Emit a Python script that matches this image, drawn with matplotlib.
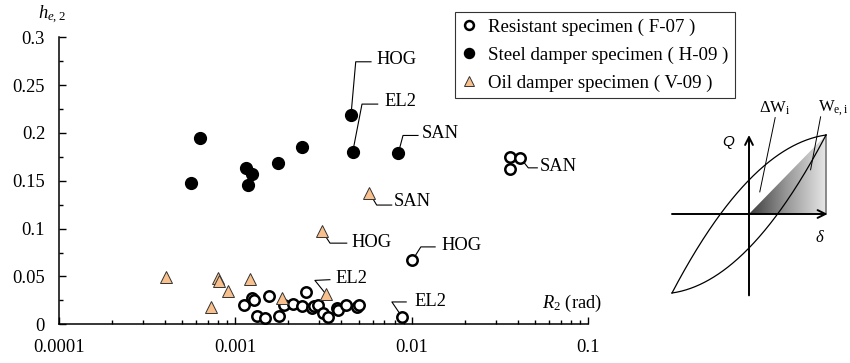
import numpy as np
import matplotlib
matplotlib.use("Agg")
import matplotlib.pyplot as plt
from matplotlib.patches import Polygon
from matplotlib.colors import LinearSegmentedColormap
from matplotlib.ticker import FixedLocator, LogLocator, NullFormatter

plt.rcParams['font.family'] = ['Liberation Serif', 'DejaVu Serif']
plt.rcParams['mathtext.fontset'] = 'custom'
plt.rcParams['mathtext.rm'] = 'Liberation Serif'
plt.rcParams['mathtext.it'] = 'Liberation Serif:italic'

# ---- data: drift angle R2 (rad) and equivalent damping ratio h_e,2 ----
resistant_R = [1.125e-3, 1.25e-3, 1.27e-3, 1.32e-3, 1.48e-3, 1.56e-3, 1.76e-3,
               1.90e-3, 2.13e-3, 2.40e-3, 2.52e-3, 2.73e-3, 2.80e-3, 2.96e-3,
               3.16e-3, 3.37e-3, 3.76e-3, 3.84e-3, 4.23e-3, 4.92e-3, 5.0e-3,
               0.0101, 0.0088, 0.0362, 0.0413, 0.0362]
resistant_h = [0.020, 0.028, 0.025, 0.009, 0.007, 0.030, 0.009,
               0.020, 0.021, 0.019, 0.034, 0.017, 0.019, 0.020,
               0.0115, 0.0073, 0.017, 0.015, 0.020, 0.018, 0.0205,
               0.067, 0.008, 0.175, 0.174, 0.162]

steel_R = [5.6e-4, 6.3e-4, 1.145e-3, 1.24e-3, 1.18e-3, 1.74e-3, 2.38e-3,
           4.53e-3, 4.63e-3, 8.4e-3]
steel_h = [0.148, 0.195, 0.163, 0.157, 0.146, 0.169, 0.185,
           0.219, 0.180, 0.179]

oil_R = [4.03e-4, 7.25e-4, 8.0e-4, 8.1e-4, 9.1e-4, 1.21e-3, 1.83e-3,
         3.09e-3, 3.25e-3, 5.75e-3]
oil_h = [0.049, 0.018, 0.048, 0.045, 0.035, 0.047, 0.027,
         0.098, 0.032, 0.1375]

legend_labels = ["Resistant specimen ( F-07 )",
                 "Steel damper specimen ( H-09 )",
                 "Oil damper specimen ( V-09 )"]

# ground-motion labels: (text, series, index in series)
ground_motion_labels = [
    ("HOG", "steel", 7), ("EL2", "steel", 8), ("SAN", "steel", 9),
    ("SAN", "resistant", 24), ("HOG", "resistant", 21), ("EL2", "resistant", 22),
    ("SAN", "oil", 9), ("HOG", "oil", 7), ("EL2", "oil", 8),
]

yticks = [0, 0.05, 0.1, 0.15, 0.2, 0.25, 0.3]
ytick_labels = ["0", "0.05", "0.1", "0.15", "0.2", "0.25", "0.3"]
xticks = [1e-4, 1e-3, 1e-2, 1e-1]
xtick_labels = ["0.0001", "0.001", "0.01", "0.1"]

W, H = 850, 363
fig = plt.figure(figsize=(W / 100, H / 100), dpi=100)
ax = fig.add_axes([59 / W, (H - 324.3) / H, (588 - 59) / W, (324.3 - 37.3) / H])

ax.set_xscale('log')
ax.set_xlim(1e-4, 1e-1)
ax.set_ylim(0, 0.3)
for s in ('top', 'right'):
    ax.spines[s].set_visible(False)
for s in ('left', 'bottom'):
    ax.spines[s].set_linewidth(1.1)

ax.set_yticks(yticks)
ax.set_yticklabels(ytick_labels)
ax.yaxis.set_minor_locator(FixedLocator(np.arange(0.025, 0.3, 0.05)))
ax.set_xticks(xticks)
ax.set_xticklabels(xtick_labels)
ax.xaxis.set_minor_locator(LogLocator(base=10, subs=np.arange(2, 10)))
ax.xaxis.set_minor_formatter(NullFormatter())
ax.tick_params(which='both', direction='in', width=1.0, labelsize=13.3)
ax.tick_params(which='major', length=5)
ax.tick_params(which='minor', length=3)
ax.tick_params(axis='y', pad=10)
ax.tick_params(axis='x', pad=10.5)

orange = '#F8C08C'
kw = dict(linestyle='none', clip_on=False, zorder=5)
ax.plot(resistant_R, resistant_h, marker='o', ms=7.5, mfc='white', mec='black',
        mew=1.8, label=legend_labels[0], **kw)
ax.plot(steel_R, steel_h, marker='o', ms=8.5, mfc='black', mec='black',
        label=legend_labels[1], **kw)
ax.plot(oil_R, oil_h, marker='^', ms=8.5, mfc=orange, mec='#333333',
        mew=0.7, label=legend_labels[2], **kw)

series = {"resistant": (resistant_R, resistant_h),
          "steel": (steel_R, steel_h),
          "oil": (oil_R, oil_h)}

# leader geometry in pixels (dx right, dy down) relative to the marker
leader_paths = {
    ("steel", 7): ([(0, 0), (4.7, -53), (20, -53)], (25, -55)),
    ("steel", 8): ([(0, 0), (9.3, -48), (25, -48)], (32, -51)),
    ("steel", 9): ([(0, 0), (4.7, -17.6), (19.7, -17.6)], (23, -20)),
    ("resistant", 24): ([(0, 0), (8, 10), (17, 10)], (19, 9)),
    ("resistant", 21): ([(0, 0), (8.4, -13.3), (22.7, -13.3)], (29, -14.5)),
    ("resistant", 22): ([(0, 0), (-10, -14.7), (4.3, -14.7)], (13, -15.5)),
    ("oil", 9): ([(0, 0), (7.4, 12.3), (22.4, 12.3)], (24, 9)),
    ("oil", 7): ([(0, 0), (8.3, 12.6), (25, 12.6)], (30, 12.3)),
    ("oil", 8): ([(0, 0), (-10.7, -13.3), (4.3, -14)], (9.5, -15)),
}

def offset_point(x, y, dx, dy):
    px, py = ax.transData.transform((x, y))
    return ax.transData.inverted().transform((px + dx, py - dy))

for text, name, i in ground_motion_labels:
    xs, ys = series[name]
    x0, y0 = xs[i], ys[i]
    path, (tx, ty) = leader_paths[(name, i)]
    pts = np.array([offset_point(x0, y0, dx, dy) for dx, dy in path])
    ax.plot(pts[:, 0], pts[:, 1], color='black', lw=0.8, zorder=3, clip_on=False)
    lx, ly = offset_point(x0, y0, tx, ty)
    ax.text(lx, ly, text, ha='left', va='center', fontsize=13.3)

# axis titles
fig.text(52 / W, 1 - 15 / H, r'$h_{e,2}$', ha='center', va='center', fontsize=13.3)
fig.text(572 / W, 1 - 303 / H, r'$R_{2}$ (rad)', ha='center', va='center', fontsize=13.3)

leg = fig.legend(loc='upper left', bbox_to_anchor=(455 / W, 1 - 11.7 / H),
                 fontsize=13.6, frameon=True, fancybox=False, edgecolor='black',
                 handlelength=0.8, handletextpad=0.6, labelspacing=0.56,
                 borderpad=0.36, borderaxespad=0, markerscale=0.85)
leg.get_frame().set_linewidth(0.8)

# ---- hysteresis schematic: loop, energy triangles, axes ----
ux, uy = 77.0, 79.0          # pixels per unit
ox, oy = 749.0, 214.0        # origin in figure pixels
x_left, x_right = 660.0, 850.0
y_top, y_bot = 100.0, 320.0
ins = fig.add_axes([x_left / W, (H - y_bot) / H, (x_right - x_left) / W, (y_bot - y_top) / H])
ins.set_xlim((x_left - ox) / ux, (x_right - ox) / ux)
ins.set_ylim((oy - y_bot) / uy, (oy - y_top) / uy)
ins.axis('off')

# gradient-filled triangle under the peak (elastic energy)
grad = np.linspace(0, 1, 256).reshape(1, -1)
gcmap = LinearSegmentedColormap.from_list('g', ['#3c3c3c', '#9a9a9a', '#e6e6e6'])
im = ins.imshow(grad, extent=(0, 1, 0, 1), cmap=gcmap, aspect='auto',
                origin='lower', zorder=1)
tri = Polygon([(0, 0), (1, 1), (1, 0)], closed=True, transform=ins.transData)
im.set_clip_path(tri)
ins.plot([1, 1], [0, 1], color='#777777', lw=1.2, zorder=2)

# pointed hysteresis loop
bulge = 0.43
xl = np.linspace(-1, 1, 200)
ins.plot(xl, xl + bulge * (1 - xl ** 2), color='black', lw=0.9, zorder=3)
ins.plot(xl, xl - bulge * (1 - xl ** 2), color='black', lw=0.9, zorder=3)

# coordinate arrows
ins.annotate('', xy=(1.02, 0), xytext=(-1.0, 0),
             arrowprops=dict(arrowstyle='->', lw=1.4, color='black',
                             mutation_scale=14, shrinkA=0, shrinkB=0), zorder=4)
ins.annotate('', xy=(0, 1.0), xytext=(0, -1.03),
             arrowprops=dict(arrowstyle='->', lw=1.4, color='black',
                             mutation_scale=14, shrinkA=0, shrinkB=0), zorder=4)
ins.text(-0.27, 0.91, 'Q', family='Liberation Sans', style='italic',
         fontsize=11, ha='center', va='center')
ins.text(0.92, -0.30, r'$\delta$', fontsize=12, ha='center', va='center')

# energy labels with leaders
ins.text(0.34, 1.34, r'$\Delta\mathrm{W}_{\mathrm{i}}$', fontsize=12,
         ha='center', va='center')
ins.text(1.10, 1.34, r'$\mathrm{W}_{\mathrm{e,i}}$', fontsize=12,
         ha='center', va='center')
ins.plot([0.34, 0.14], [1.22, 0.28], color='black', lw=0.7)
ins.plot([0.93, 0.80], [1.23, 0.56], color='black', lw=0.7)

fig.savefig('out.png', dpi=100)
